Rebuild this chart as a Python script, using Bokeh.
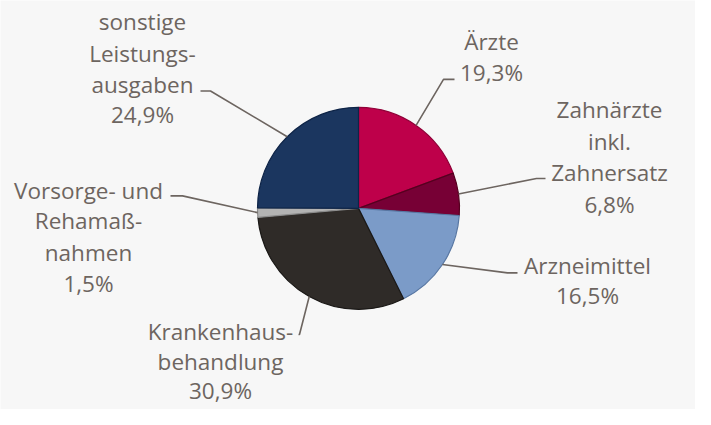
import numpy as np
from bokeh.plotting import figure
from bokeh.models import Range1d, ColumnDataSource
from bokeh.core.properties import value
from bokeh.embed import file_html
from bokeh.resources import INLINE

# ---- data ----
categories = ["Ärzte", "Zahnärzte inkl. Zahnersatz", "Arzneimittel",
              "Krankenhausbehandlung", "Vorsorge- und Rehamaßnahmen",
              "sonstige Leistungsausgaben"]
shares = [19.3, 6.8, 16.5, 30.9, 1.5, 24.9]
label_lines = [
    ["Ärzte", "19,3%"],
    ["Zahnärzte", "inkl.", "Zahnersatz", "6,8%"],
    ["Arzneimittel", "16,5%"],
    ["Krankenhaus-", "behandlung", "30,9%"],
    ["Vorsorge- und", "Rehamaß-", "nahmen", "1,5%"],
    ["sonstige", "Leistungs-", "ausgaben", "24,9%"],
]

# ---- styles / layout ----
fills = ["#be004a", "#770035", "#7b9bc8", "#2f2b28", "#b3b3b3", "#1b365f"]
edges = ["#900038", "#55001f", "#5877a3", "#1a1816", "#8c8c8c", "#0e2447"]
TXT = "#6d6560"
W, H = 695, 409
REF_H = 425
SY = H / REF_H  # vertical px per reference px

def fy(y):
    return REF_H - y

cx, cy, R = 358, 216, 101
label_x = [491, 609, 587, 220, 88, 142]
label_y = [[43, 75], [113, 146, 179, 212], [275, 307],
           [344, 375, 405], [197, 229, 262, 294], [22, 55, 87, 118]]
elbow = [(443, 82), (536, 185), (507, 283), (299, 347), (182, 203), (210, 94)]
tail = [(454, 82), (545, 185), (517, 283), (298, 347), (170, 203), (200, 94)]

p = figure(width=W, height=H, output_backend="svg", toolbar_location=None,
           x_range=Range1d(0, W), y_range=Range1d(0, REF_H),
           min_border=0, background_fill_color="#f7f7f7",
           border_fill_color="#f7f7f7", outline_line_color=None)
p.axis.visible = False
p.grid.visible = False

frac = np.array(shares) / sum(shares)
cum = np.concatenate([[0], np.cumsum(frac)])
start = np.pi / 2 - cum[:-1] * 2 * np.pi
end = np.pi / 2 - cum[1:] * 2 * np.pi
mid = (start + end) / 2

src = ColumnDataSource(dict(start=start, end=end, fill=fills, edge=edges, cat=categories))
p.wedge(x=cx, y=fy(cy), radius=R, start_angle="end", end_angle="start",
        fill_color="fill", line_color="edge", line_width=1.2, source=src)

# leader lines (pie edge computed in screen px, converted back to data)
xs, ys = [], []
for i, m in enumerate(mid):
    ex = cx + R * np.cos(m)
    ey_px = cy * SY - R * np.sin(m)
    ey = ey_px / SY
    xs.append([ex, elbow[i][0], tail[i][0]])
    ys.append([fy(ey), fy(elbow[i][1]), fy(tail[i][1])])
p.multi_line(xs=xs, ys=ys, line_color=TXT, line_width=1.6)

tx, ty, tt = [], [], []
for i, lines in enumerate(label_lines):
    for j, t in enumerate(lines):
        tx.append(label_x[i])
        ty.append(fy(label_y[i][j]))
        tt.append(t)
p.text(x=tx, y=ty, text=tt, text_font=value("Open Sans"), text_font_size="22.5px",
       text_color=TXT, text_align="center", text_baseline="middle")

open("out.html", "w").write(file_html(p, INLINE))
